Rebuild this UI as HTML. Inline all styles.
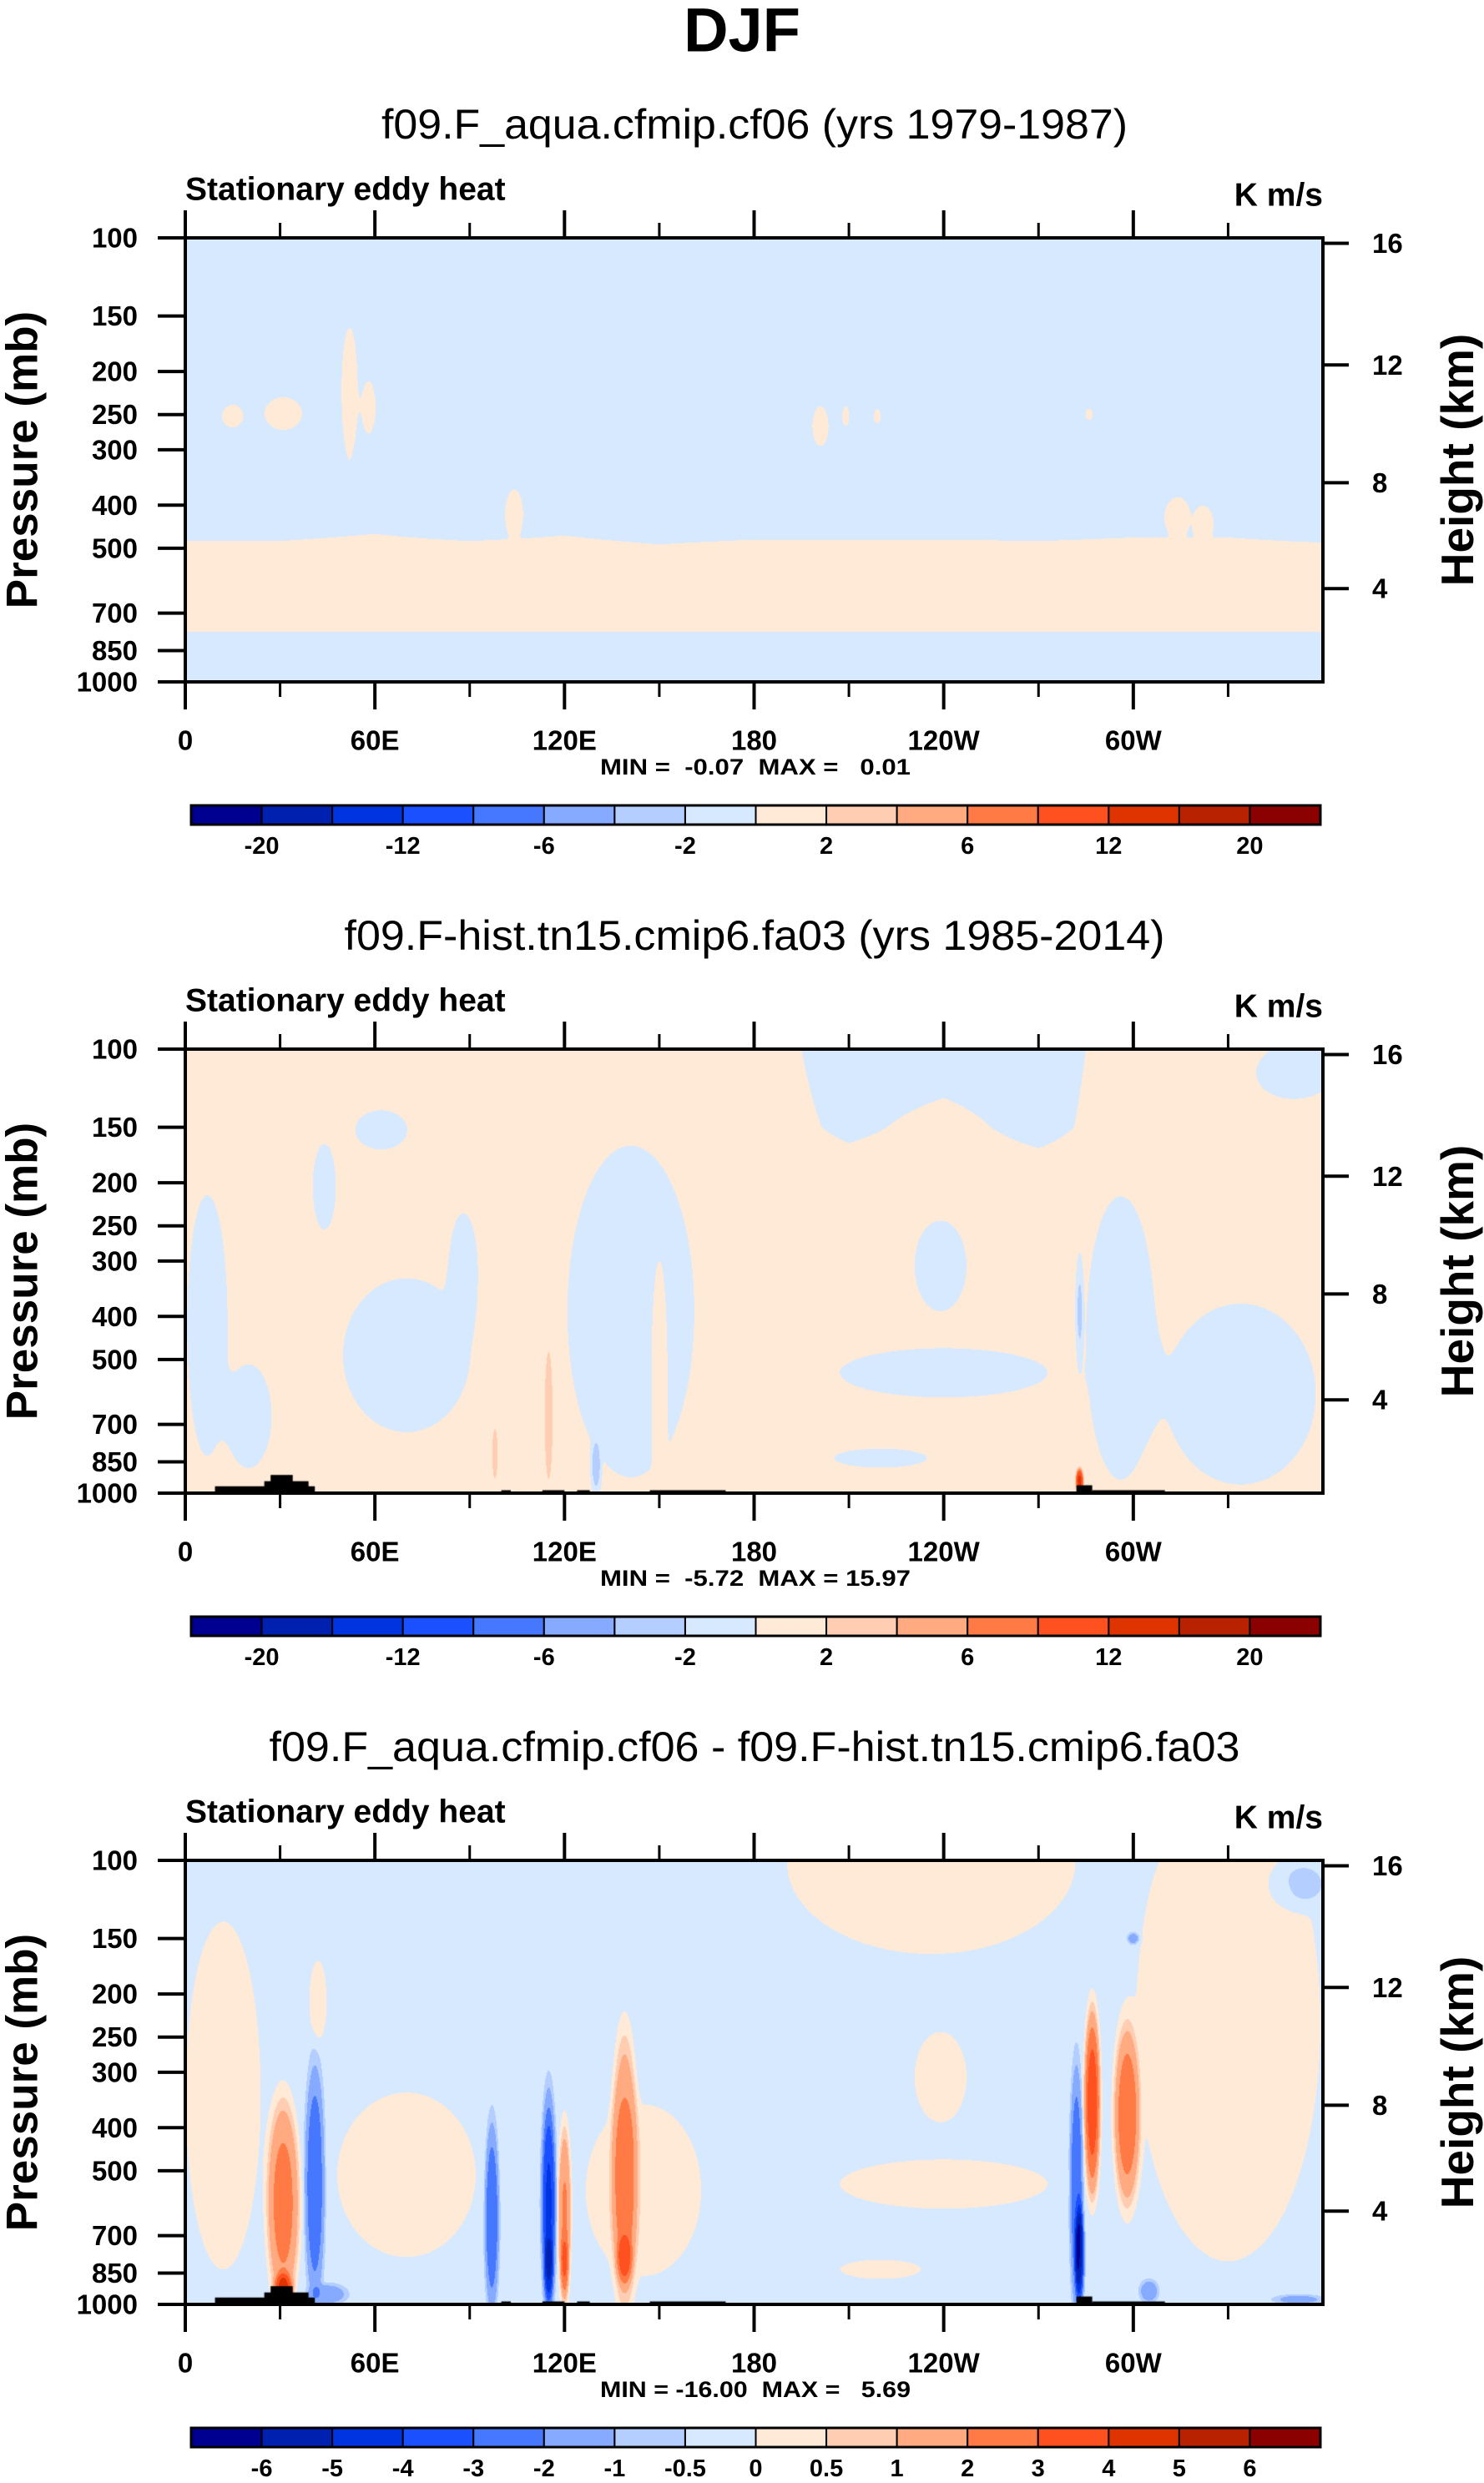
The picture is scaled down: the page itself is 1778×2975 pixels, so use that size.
<!DOCTYPE html>
<html><head><meta charset="utf-8"><title>DJF Stationary eddy heat</title>
<style>
html,body{margin:0;padding:0;background:#fff}
body{width:1778px;height:2975px;position:relative;overflow:hidden}
canvas{position:absolute}
svg{position:absolute;left:0;top:0}
text{font-family:"Liberation Sans",Arial,sans-serif}
.pre{white-space:pre}
</style></head>
<body>
<canvas id="c0"></canvas>
<canvas id="c1"></canvas>
<canvas id="c2"></canvas>
<svg id="s" width="1778" height="2975" xmlns="http://www.w3.org/2000/svg">
<text x="889" y="36" text-anchor="middle" dominant-baseline="central" font-size="74" font-weight="bold">DJF</text>
</svg>
<script>
// ---------- data ----------
const lonCols = [0,30,60,90,120,150,180,210,240,270,300,330,360];
const gridLevels = [100,150,200,300,400,500,600,700,850,1000];
const grid1 = [
 [-0.03,-0.03,-0.03,-0.03,-0.03,-0.03,-0.03,-0.03,-0.03,-0.03,-0.03,-0.03,-0.03],
 [-0.03,-0.03,-0.03,-0.03,-0.03,-0.03,-0.03,-0.03,-0.03,-0.03,-0.03,-0.03,-0.03],
 [-0.03,-0.03,-0.03,-0.03,-0.03,-0.03,-0.03,-0.03,-0.03,-0.03,-0.03,-0.03,-0.03],
 [-0.03,-0.03,-0.03,-0.03,-0.03,-0.03,-0.03,-0.03,-0.03,-0.03,-0.03,-0.03,-0.03],
 [-0.02,-0.015,-0.01,-0.02,-0.012,-0.02,-0.02,-0.02,-0.02,-0.02,-0.015,-0.012,-0.02],
 [0.004,0.003,0.005,0.004,0.005,0.002,0.005,0.005,0.005,0.004,0.005,0.004,0.003],
 [0.01,0.01,0.01,0.01,0.01,0.01,0.01,0.01,0.01,0.01,0.01,0.01,0.01],
 [0.01,0.01,0.01,0.01,0.01,0.01,0.01,0.01,0.01,0.01,0.01,0.01,0.01],
 [-0.01,-0.01,-0.01,-0.01,-0.01,-0.01,-0.01,-0.01,-0.01,-0.01,-0.01,-0.01,-0.01],
 [-0.03,-0.03,-0.03,-0.03,-0.03,-0.03,-0.03,-0.03,-0.03,-0.03,-0.03,-0.03,-0.03]
];
const grid2 = [
 [0.5,0.5,0.5,0.5,0.5,0.5,0.5,-0.5,-0.5,-0.5,0.5,0.5,-0.2],
 [0.5,0.5,0.5,0.5,0.5,0.5,0.5,-0.2,0.3,-0.3,0.5,0.5,0.5],
 [0.5,0.5,0.5,0.5,0.5,0.5,0.5,0.5,0.5,0.5,0.5,0.5,0.5],
 [0.5,0.5,0.5,0.5,0.5,0.5,0.5,0.5,0.5,0.5,0.5,0.5,0.5],
 [0.5,0.5,0.5,0.5,0.5,0.5,0.5,0.5,0.5,0.5,0.5,0.5,0.5],
 [0.5,0.5,0.5,0.5,0.5,0.5,0.5,0.5,0.5,0.5,0.5,0.5,0.5],
 [0.5,0.5,0.5,0.5,0.5,0.5,0.5,0.5,0.5,0.5,0.5,0.5,0.5],
 [0.5,0.5,0.5,0.5,0.5,0.5,0.5,0.5,0.5,0.5,0.5,0.5,0.5],
 [0.5,0.5,0.5,0.5,0.5,0.5,0.5,0.5,0.5,0.5,0.5,0.5,0.5],
 [0.5,0.5,0.5,0.5,0.5,0.5,0.5,0.5,0.5,0.5,0.5,0.5,0.5]
];
const grid3 = [
 [-0.3,-0.3,-0.3,-0.3,-0.3,-0.3,-0.3,-0.3,-0.3,-0.3,-0.3,-0.3,-0.3],
 [-0.3,-0.3,-0.3,-0.3,-0.3,-0.3,-0.3,-0.3,-0.3,-0.3,-0.3,-0.3,-0.3],
 [-0.3,-0.3,-0.3,-0.3,-0.3,-0.3,-0.3,-0.3,-0.3,-0.3,-0.3,-0.3,-0.3],
 [-0.3,-0.3,-0.3,-0.3,-0.3,-0.3,-0.3,-0.3,-0.3,-0.3,-0.3,-0.3,-0.3],
 [-0.3,-0.3,-0.3,-0.3,-0.3,-0.3,-0.3,-0.3,-0.3,-0.3,-0.3,-0.3,-0.3],
 [-0.3,-0.3,-0.3,-0.3,-0.3,-0.3,-0.3,-0.3,-0.3,-0.3,-0.3,-0.3,-0.3],
 [-0.3,-0.3,-0.3,-0.3,-0.3,-0.3,-0.3,-0.3,-0.3,-0.3,-0.3,-0.3,-0.3],
 [-0.3,-0.3,-0.3,-0.3,-0.3,-0.3,-0.3,-0.3,-0.3,-0.3,-0.3,-0.3,-0.3],
 [-0.3,-0.3,-0.3,-0.3,-0.3,-0.3,-0.3,-0.3,-0.3,-0.3,-0.3,-0.3,-0.3],
 [-0.3,-0.3,-0.3,-0.3,-0.3,-0.3,-0.3,-0.3,-0.3,-0.3,-0.3,-0.3,-0.3]
];
// blobs: [lon, pTop, pBottom, halfWidthLon, amplitude]
const blobs1 = [
 [15,235,270,4,0.05],[31,225,275,7,0.05],[52,150,330,3,0.05],[58,200,290,3,0.04],
 [201,235,300,3,0.05],[209,235,270,1.5,0.04],[219,240,265,1.5,0.04],[286,240,260,1.5,0.04],
 [104,360,460,3,0.03],[314,380,460,4,0.03],[322,400,470,3,0.03]
];
const blobs2 = [
 [7,200,880,7,-1],[20,500,900,8,-1],[44,160,260,4,-1],[62,136,170,9,-1],[70,316,757,22,-1],
 [88,228,437,5,-1],[141,152,1000,22,-1],[150,300,900,2.5,1.2],[239,238,398,9,-1],
 [240,466,616,36,-1],[220,790,880,16,-1],[296,200,1000,12,-1],[334,358,1000,26,-1],
 [350,100,129,11,-1],[115,445,990,1.5,2.5],[98,700,950,1,2.5],[283,880,1000,1.2,12],
 [130,750,1000,1.5,-3],[283,300,500,1.2,-2.5]
];
const blobs3 = [
 [12,126,910,13,0.6],[70,320,815,24,0.6],[42,165,260,3,0.6],[145,340,900,20,0.6],
 [239,238,398,9,0.6],[240,466,616,36,0.6],[220,790,880,14,0.6],
 [236,60,170,50,0.6],[330,60,900,32,0.6],
 [352,100,129,9,-0.6],
 [31,350,1000,5,2.6],[31,850,1000,3,3],[41,300,950,3,-2.5],[45,900,1000,6,-1.2],
 [97,400,1000,2.2,-2.6],[115,350,1000,2.2,-3.8],[115,700,1000,1.5,-2],
 [120,400,1000,2,2.3],[120,700,950,1.3,1.5],[139,250,1000,4,2.3],[139,700,900,2.5,1.8],
 [282,300,1000,2,-2.5],[283,600,1000,1.5,-4],[287,220,560,2.5,3.7],[298,240,590,4,2.7],
 [300,145,155,2,-1.2],[305,880,990,3,-1.2],[352,950,1000,8,-1]
];
// topography: [lonStart, lonEnd, pTop]
const topo = [[9.4,41,965],[25,39,940],[27,34,910],[100,103,985],[113,120,985],[124,128,985],[147,171,985],[282,287,960],[287,310,985]];
const levelsA = [-20,-16,-12,-9,-6,-4,-2,0,2,4,6,9,12,16,20];
const labelsA = ["-20","","-12","","-6","","-2","","2","","6","","12","","20"];
const levelsB = [-6,-5,-4,-3,-2,-1,-0.5,0,0.5,1,2,3,4,5,6];
const labelsB = ["-6","-5","-4","-3","-2","-1","-0.5","0","0.5","1","2","3","4","5","6"];
const colors = ["#000090","#0020B0","#0034E0","#1A50FF","#4578FF","#85AAFF","#B3CEFF","#D6E9FF","#FFEAD8","#FFCEB2","#FFAA80","#FF7A45","#FF5020","#E03400","#B82200","#8B0000"];
const pTicks = [100,150,200,250,300,400,500,700,850,1000];
const zTicks = [4,8,12,16];
const lonTicks = [0,60,120,180,240,300];
const lonLabels = ["0","60E","120E","180","120W","60W"];
const minorLon = [30,90,150,210,270,330];
const titles = ["f09.F_aqua.cfmip.cf06 (yrs 1979-1987)","f09.F-hist.tn15.cmip6.fa03 (yrs 1985-2014)","f09.F_aqua.cfmip.cf06 - f09.F-hist.tn15.cmip6.fa03"];
const titleWidths = [894,983,1163];
const minmax = ["MIN =  -0.07  MAX =   0.01","MIN =  -5.72  MAX = 15.97","MIN = -16.00  MAX =   5.69"];

// ---------- layout ----------
const L = 222, PW = 1363, PH = 532;
const tops = [285,1257,2229];
const grids = [grid1,grid2,grid3];
const blobSets = [blobs1,blobs2,blobs3];
const levelSets = [levelsA,levelsA,levelsB];
const labelSets = [labelsA,labelsA,labelsB];
const hasTopo = [false,true,true];

function xOf(lon){return L + lon/360*PW;}
function yOf(p,top){return top + Math.log10(p/100)*PH;}
function pOfZ(zkm){const z=zkm*1000; if(z<=11000) return 1013.25*Math.pow(1-2.25577e-5*z,5.25588); return 226.32*Math.exp(-(z-11000)/6341.6);}
function hex(c){return [parseInt(c.slice(1,3),16),parseInt(c.slice(3,5),16),parseInt(c.slice(5,7),16)];}
const rgb = colors.map(hex);
const gLog = gridLevels.map(p=>Math.log10(p/100));

function baseVal(grid, lon, lp){
  let i = Math.min(Math.floor(lon/30), lonCols.length-2);
  const fx = (lon - lonCols[i])/30;
  let j = 0; while(j<gLog.length-2 && lp>gLog[j+1]) j++;
  const fy = Math.max(0,Math.min(1,(lp-gLog[j])/(gLog[j+1]-gLog[j])));
  const a = grid[j][i]*(1-fx)+grid[j][i+1]*fx;
  const b = grid[j+1][i]*(1-fx)+grid[j+1][i+1]*fx;
  return a*(1-fy)+b*fy;
}

function drawPanel(k){
  const cv = document.getElementById('c'+k);
  cv.width = PW; cv.height = PH;
  cv.style.left = L+'px'; cv.style.top = tops[k]+'px';
  const ctx = cv.getContext('2d');
  const img = ctx.createImageData(PW,PH);
  const grid = grids[k], bl = blobSets[k].map(b=>{
    const l1=Math.log10(b[1]/100), l2=Math.log10(b[2]/100);
    return [b[0],(l1+l2)/2,Math.max((l2-l1)/2,0.005),b[3],b[4]];
  });
  const lev = levelSets[k];
  for(let py=0;py<PH;py++){
    const lp=(py+0.5)/PH;
    for(let px=0;px<PW;px++){
      const lon=(px+0.5)/PW*360;
      let v=baseVal(grid,lon,lp);
      for(const b of bl){
        const dx=(lon-b[0])/b[3]; if(dx>2||dx<-2) continue;
        const dy=(lp-b[1])/b[2]; if(dy>2||dy<-2) continue;
        const r2=dx*dx+dy*dy; v+=b[4]*Math.exp(-r2*r2);
      }
      let idx=0; while(idx<lev.length && v>=lev[idx]) idx++;
      const c=rgb[idx], o=(py*PW+px)*4;
      img.data[o]=c[0];img.data[o+1]=c[1];img.data[o+2]=c[2];img.data[o+3]=255;
    }
  }
  ctx.putImageData(img,0,0);
  if(hasTopo[k]){
    ctx.fillStyle='#000';
    for(const t of topo){
      const x1=t[0]/360*PW, x2=t[1]/360*PW, y1=Math.log10(t[2]/100)*PH;
      ctx.fillRect(x1,y1,x2-x1,PH-y1);
    }
  }
}

const S = document.getElementById('s');
const NS = 'http://www.w3.org/2000/svg';
function mk(tag, attrs, txt){
  const e=document.createElementNS(NS,tag);
  for(const a in attrs) e.setAttribute(a,attrs[a]);
  if(txt!==undefined) e.textContent=txt;
  S.appendChild(e); return e;
}

for(let k=0;k<3;k++){
  drawPanel(k);
  const T=tops[k], B=T+PH, R=L+PW;
  let e;
  e=mk('text',{x:904,y:T-136,'text-anchor':'middle','dominant-baseline':'central','font-size':50,textLength:titleWidths[k],lengthAdjust:'spacingAndGlyphs'},titles[k]);
  
  
  e=mk('text',{x:L,y:T-58,'dominant-baseline':'central','font-size':39,'font-weight':'bold'},'Stationary eddy heat');
  
  
  e=mk('text',{x:R,y:T-51,'text-anchor':'end','dominant-baseline':'central','font-size':39,'font-weight':'bold'},'K m/s');
  
  
  e=mk('rect',{x:L,y:T,width:PW,height:PH,fill:'none',stroke:'#000','stroke-width':4});
  
  
  for(const p of pTicks){
    const y=yOf(p,T);
    e=mk('line',{x1:L-33,x2:L,y1:y,y2:y,stroke:'#000','stroke-width':4});
    
    
    e=mk('text',{x:L-57,y:y,'text-anchor':'end','dominant-baseline':'central','font-size':33,'font-weight':'bold'},String(p));
    
    
  }
  for(const z of zTicks){
    const y=yOf(pOfZ(z),T);
    e=mk('line',{x1:R,x2:R+31,y1:y,y2:y,stroke:'#000','stroke-width':4});
    
    
    e=mk('text',{x:1644,y:y,'dominant-baseline':'central','font-size':33,'font-weight':'bold'},String(z));
    
    
  }
  lonTicks.forEach((lon,i)=>{
    const x=xOf(lon);
    e=mk('line',{x1:x,x2:x,y1:T-33,y2:T,stroke:'#000','stroke-width':4});
    
    
    e=mk('line',{x1:x,x2:x,y1:B,y2:B+33,stroke:'#000','stroke-width':4});
    
    
    e=mk('text',{x:x,y:B+70,'text-anchor':'middle','dominant-baseline':'central','font-size':33,'font-weight':'bold'},lonLabels[i]);
    
    
  });
  for(const lon of minorLon){
    const x=xOf(lon);
    e=mk('line',{x1:x,x2:x,y1:T-18,y2:T,stroke:'#000','stroke-width':3});
    
    
    e=mk('line',{x1:x,x2:x,y1:B,y2:B+18,stroke:'#000','stroke-width':3});
    
    
  }
  const cy=T+PH/2;
  e=mk('text',{x:27,y:cy,'text-anchor':'middle','dominant-baseline':'central','font-size':53,'font-weight':'bold',transform:'rotate(-90 27 '+cy+')'},'Pressure (mb)');
  
  
  e=mk('text',{x:1746,y:cy,'text-anchor':'middle','dominant-baseline':'central','font-size':55,'font-weight':'bold',transform:'rotate(-90 1746 '+cy+')'},'Height (km)');
  
  
  e=mk('text',{x:905,y:B+102,'text-anchor':'middle','dominant-baseline':'central','font-size':27,'font-weight':'bold','class':'pre',textLength:372,lengthAdjust:'spacingAndGlyphs'},minmax[k]);
  
  
  const cbL=229, cbR=1582, cbT=T+680, cbH=23, bw=(cbR-cbL)/16;
  for(let i=0;i<16;i++){
    e=mk('rect',{x:cbL+i*bw,y:cbT,width:bw,height:cbH,fill:colors[i],stroke:'#000','stroke-width':2});
    
    
  }
  e=mk('rect',{x:cbL,y:cbT,width:cbR-cbL,height:cbH,fill:'none',stroke:'#000','stroke-width':3});
  
  
  const labs=labelSets[k];
  for(let i=0;i<labs.length;i++){
    if(!labs[i]) continue;
    e=mk('text',{x:cbL+(i+1)*bw,y:cbT+49,'text-anchor':'middle','dominant-baseline':'central','font-size':29,'font-weight':'bold'},labs[i]);
    
    
  }
}
</script>
</body></html>
